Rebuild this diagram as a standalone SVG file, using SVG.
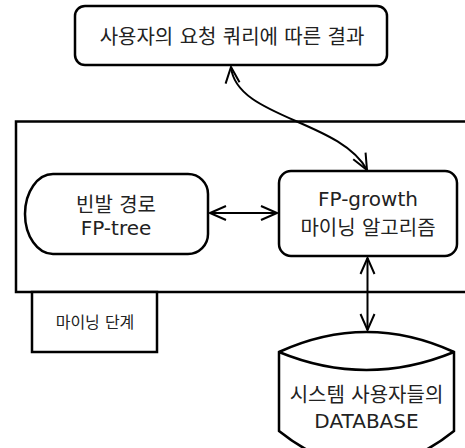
<svg xmlns="http://www.w3.org/2000/svg" width="465" height="448" viewBox="0 0 465 448">
  <style>
    .shape { fill: #ffffff; stroke: #000000; stroke-width: 2.5; }
    .frame { fill: none; stroke: #000000; stroke-width: 2.5; }
    .conn { fill: none; stroke: #000000; stroke-width: 2; marker-start: url(#head); marker-end: url(#head); }
    text { font-family: "DejaVu Sans", "Noto Sans CJK KR", sans-serif; font-size: 20px; fill: #222222; text-anchor: middle; }
    .small { font-size: 16px; }
  </style>
  <defs>
    <marker id="head" viewBox="-18 -9 20 18" refX="0" refY="0" markerWidth="20" markerHeight="18" markerUnits="userSpaceOnUse" orient="auto-start-reverse">
      <path d="M -16,-7 L 0,0 L -16,7" fill="none" stroke="#000000" stroke-width="2"/>
    </marker>
  </defs>

  <!-- mining stage container and its tab -->
  <g id="stage">
    <rect class="frame" x="16" y="121.5" width="470" height="170.5"/>
    <rect class="shape" x="32" y="292" width="125" height="60"/>
    <text class="small" x="95" y="327.5">마이닝 단계</text>
  </g>

  <!-- query result -->
  <g id="result">
    <rect class="shape" x="75" y="6" width="312" height="59" rx="10" ry="10"/>
    <text x="232" y="43.5">사용자의 요청 쿼리에 따른 결과</text>
  </g>

  <!-- frequent path tree -->
  <g id="fptree">
    <path class="shape" d="M 53,174 L 188,174 A 20 20 0 0 1 208,194 L 208,234 A 20 20 0 0 1 188,254 L 53,254 A 28 40 0 0 1 53,174 Z"/>
    <text x="116" y="211.5">빈발 경로</text>
    <text x="116" y="235">FP-tree</text>
  </g>

  <!-- FP-growth algorithm -->
  <g id="fpgrowth">
    <rect class="shape" x="279" y="171" width="178" height="85" rx="12" ry="12"/>
    <text x="368" y="206">FP-growth</text>
    <text x="368" y="235">마이닝 알고리즘</text>
  </g>

  <!-- user database -->
  <g id="database">
    <path class="shape" d="M 279,352 Q 366.5,312 454,352 L 454,431 Q 366.5,501 279,431 Z"/>
    <path class="frame" d="M 279,352 Q 366.5,388 454,352"/>
    <text x="366.5" y="402">시스템 사용자들의</text>
    <text x="366.5" y="428">DATABASE</text>
  </g>

  <!-- connectors -->
  <g id="connectors">
    <path class="conn" d="M 231,67 C 236,118 340,120 367,170"/>
    <path class="conn" d="M 210,213 L 277,213"/>
    <path class="conn" d="M 367.5,258 L 367.5,330"/>
  </g>
</svg>
